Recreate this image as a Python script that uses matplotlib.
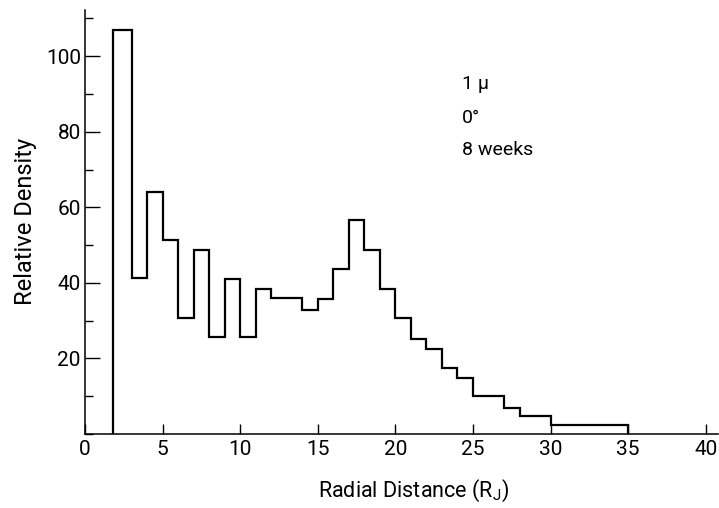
import numpy as np
import matplotlib.pyplot as plt
from matplotlib.ticker import MultipleLocator

# batas bin (R_J) dan nilai relative density tiap bin
bin_edges = [1.8, 3, 4, 5, 6, 7, 8, 9, 10, 11, 12, 14, 15, 16, 17, 18, 19,
             20, 21, 22, 23, 24, 25, 27, 28, 30, 35]
density = [107, 41.3, 64, 51.4, 30.6, 48.6, 25.6, 41.1, 25.8, 38.4, 35.9,
           32.8, 35.8, 43.6, 56.7, 48.7, 38.4, 30.6, 25.1, 22.6, 17.4, 14.9,
           10.1, 7.0, 4.7, 2.4]

x_ticks = [0, 5, 10, 15, 20, 25, 30, 35, 40]
y_ticks = [20, 40, 60, 80, 100]
note_lines = ["1 \u03bc", "0\u00b0", "8 weeks"]

# font sempit seperti gambar asli
plt.rcParams['font.family'] = ['Roboto', 'DejaVu Sans']
plt.rcParams['mathtext.fontset'] = 'custom'
plt.rcParams['mathtext.rm'] = 'Roboto'

fig = plt.figure(figsize=(7.19, 5.08), dpi=100)
ax = fig.add_axes([0.1182, 0.1457, 0.880, 0.835])

# histogram garis tangga
ax.stairs(density, bin_edges, color='black', linewidth=1.6, baseline=0)

ax.set_xlim(0, 40.77)
ax.set_ylim(0, 112.3)

ax.spines['top'].set_visible(False)
ax.spines['right'].set_visible(False)
ax.spines['left'].set_linewidth(1.1)
ax.spines['bottom'].set_linewidth(1.1)

ax.set_xticks(x_ticks)
ax.set_yticks(y_ticks)
ax.yaxis.set_minor_locator(MultipleLocator(10))
ax.tick_params(axis='y', which='major', direction='in', length=10.5, width=1, labelsize=15, pad=3)
ax.tick_params(axis='y', which='minor', direction='in', length=5.5, width=1)
ax.tick_params(axis='x', which='major', direction='in', length=7, width=1, labelsize=15, pad=4)

ax.set_xlabel("Radial Distance (R$_\\mathregular{J}$)", fontsize=15.5, labelpad=14, x=0.52)
ax.set_ylabel("Relative Density", fontsize=17, labelpad=6)

# keterangan di pojok kanan atas
y_note = [92.7, 83.7, 75.2]
for txt, yy in zip(note_lines, y_note):
    ax.text(24.3, yy, txt, fontsize=14, ha='left', va='center')

fig.savefig("out.png", dpi=100)
